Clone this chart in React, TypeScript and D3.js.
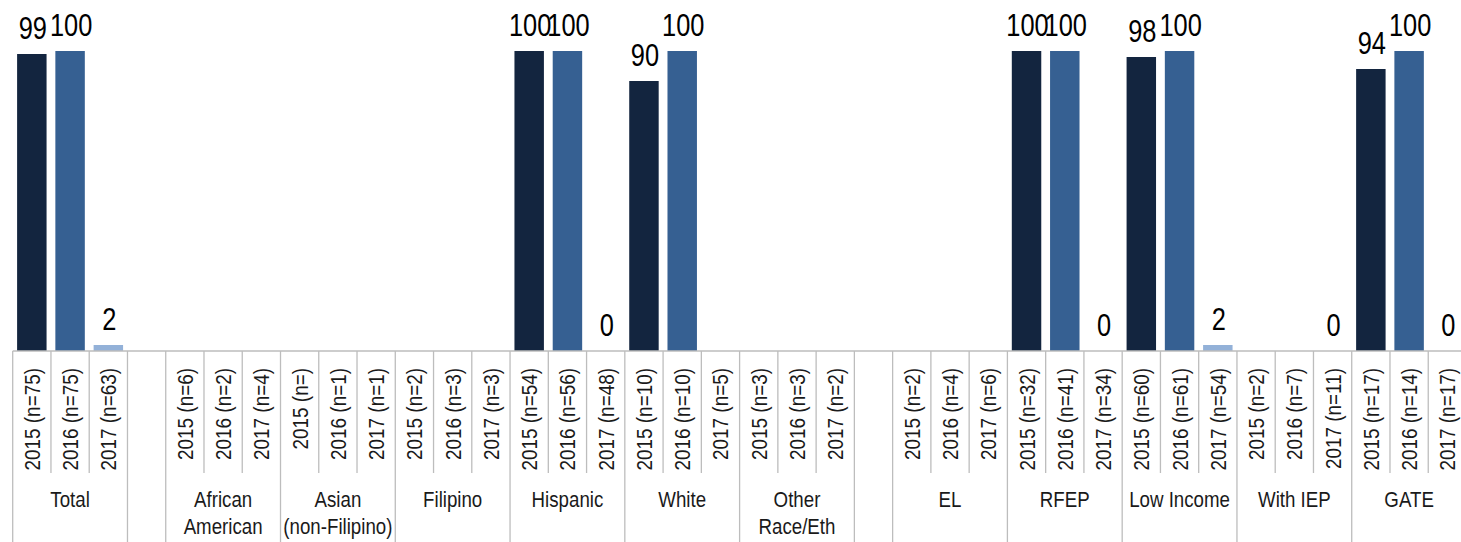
import React from "react";
import * as d3 from "d3";

const groups = ["Total", "", "African American", "Asian (non-Filipino)", "Filipino", "Hispanic", "White", "Other Race/Eth", "", "EL", "RFEP", "Low Income", "With IEP", "GATE"];
const groupLines = [["Total"], [], ["African", "American"], ["Asian", "(non-Filipino)"], ["Filipino"], ["Hispanic"], ["White"], ["Other", "Race/Eth"], [], ["EL"], ["RFEP"], ["Low Income"], ["With IEP"], ["GATE"]];
const years = ["2015", "2016", "2017"];
const nLabels: (string[] | null)[] = [
  ["75", "75", "63"],
  null,
  ["6", "2", "4"],
  ["", "1", "1"],
  ["2", "3", "3"],
  ["54", "56", "48"],
  ["10", "10", "5"],
  ["3", "3", "2"],
  null,
  ["2", "4", "6"],
  ["32", "41", "34"],
  ["60", "61", "54"],
  ["2", "7", "11"],
  ["17", "14", "17"],
];
const values2015: (number | null)[] = [99, null, null, null, null, 100, 90, null, null, null, 100, 98, null, 94];
const values2016: (number | null)[] = [100, null, null, null, null, 100, 100, null, null, null, 100, 100, null, 100];
const values2017: (number | null)[] = [2, null, null, null, null, 0, null, null, null, null, 0, 2, 0, 0];
const colors = ["#13253f", "#366092", "#93b1d8"];

type Slot = { key: string; group: number; year: number; label: string; value: number | null };

export default function App() {
  const W = 1461, H = 542;
  const series = [values2015, values2016, values2017];
  const slots: Slot[] = [];
  groups.forEach((g, gi) => {
    const n = nLabels[gi];
    if (!n) {
      slots.push({ key: `gap${gi}`, group: gi, year: -1, label: "", value: null });
    } else {
      years.forEach((y, yi) => {
        slots.push({ key: `${gi}-${yi}`, group: gi, year: yi, label: `${y} (n=${n[yi]})`, value: series[yi][gi] });
      });
    }
  });

  const pad = 0.23;
  const x = d3.scaleBand<string>().domain(slots.map((s) => s.key)).range([12.7, 1466.5]).paddingInner(pad).paddingOuter(pad / 2);
  const step = x.step();
  const bw = x.bandwidth();
  const y = d3.scaleLinear().domain([0, 100]).range([351, 51]);
  const y0 = y(0);
  const left = (k: string) => (x(k) as number) - (pad * step) / 2;

  const font = "'Liberation Sans', Arial, sans-serif";
  const lineColor = "#bdbdbd";
  const bottom = 560;

  const groupExtents = groups.map((_, gi) => {
    const ss = slots.filter((s) => s.group === gi);
    return { x0: left(ss[0].key), x1: left(ss[ss.length - 1].key) + step, gi };
  });

  return (
    <svg width={W} height={H} style={{ position: "absolute", left: 0, top: 0, background: "#fff" }} fontFamily={font}>
      {slots.map((s) =>
        s.value === null || s.year < 0 ? null : (
          <rect key={s.key} x={x(s.key)} y={y(s.value)} width={bw} height={y0 - y(s.value)} fill={colors[s.year]} />
        )
      )}
      {slots.map((s) =>
        s.value === null || s.year < 0 ? null : (
          <text
            key={`v${s.key}`}
            transform={`translate(${(x(s.key) as number) + bw / 2 + 1},${y(s.value) - 15}) scale(0.82,1)`}
            textAnchor="middle"
            fontSize={31}
            fill="#000"
          >
            {s.value}
          </text>
        )
      )}
      <line x1={12.7} x2={W} y1={y0} y2={y0} stroke={lineColor} strokeWidth={1.3} />
      {slots.map((s) =>
        s.year > 0 ? (
          <line key={`t${s.key}`} x1={left(s.key)} x2={left(s.key)} y1={y0} y2={473} stroke={lineColor} strokeWidth={1.3} />
        ) : null
      )}
      {groupExtents.map((g) => (
        <line key={`g${g.gi}`} x1={g.x0} x2={g.x0} y1={y0} y2={bottom} stroke={lineColor} strokeWidth={1.3} />
      ))}
      {slots.map((s) =>
        s.year < 0 ? null : (
          <text
            key={`l${s.key}`}
            transform={`translate(${(x(s.key) as number) + bw / 2 + 8},368) rotate(-90) scale(0.86,1)`}
            textAnchor="end"
            fontSize={22}
            fill="#1a1a1a"
          >
            {s.label}
          </text>
        )
      )}
      {groupExtents.map((g) =>
        groupLines[g.gi].map((ln, li) => (
          <text
            key={`gl${g.gi}-${li}`}
            transform={`translate(${(g.x0 + g.x1) / 2},${507 + li * 26.5}) scale(0.85,1)`}
            textAnchor="middle"
            fontSize={22}
            fill="#1a1a1a"
          >
            {ln}
          </text>
        ))
      )}
    </svg>
  );
}
